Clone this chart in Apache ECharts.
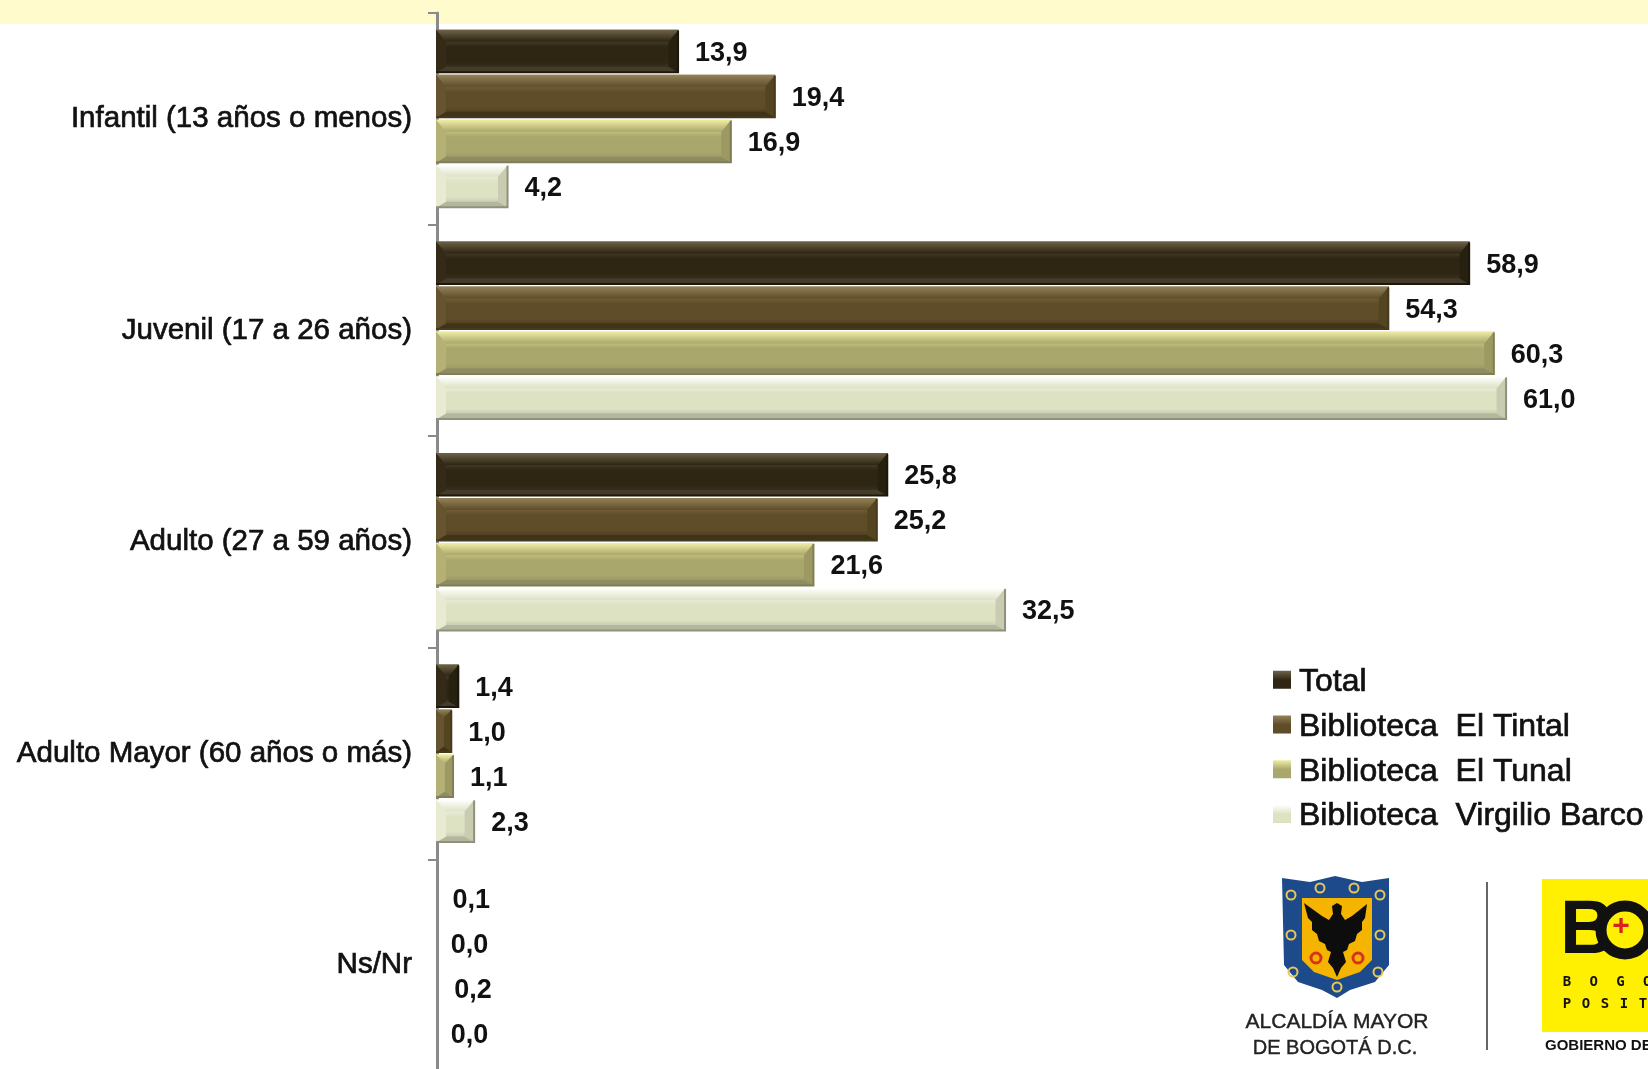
<!DOCTYPE html>
<html><head><meta charset="utf-8">
<style>html,body{margin:0;padding:0;background:#fff;overflow:hidden}#c{width:1648px;height:1069px}</style>
<script src="https://cdn.jsdelivr.net/npm/echarts@6/dist/echarts.min.js"></script>
</head><body><div id="c"></div>
<script>
const categories = ['Infantil (13 años o menos)','Juvenil (17 a 26 años)','Adulto (27 a 59 años)','Adulto Mayor (60 años o más)','Ns/Nr'];
const seriesNames = ['Total','Biblioteca  El Tintal','Biblioteca  El Tunal','Biblioteca  Virgilio Barco'];
const total = [13.9,58.9,25.8,1.4,0.1];
const tintal = [19.4,54.3,25.2,1.0,0.0];
const tunal = [16.9,60.3,21.6,1.1,0.2];
const virgilio = [4.2,61.0,32.5,2.3,0.0];
const allValues = [total,tintal,tunal,virgilio];
const fills = ['#2e2513','#5e4d28','#aaa76c','#dde2c3'];
const tops = ['#6e6348','#94825a','#f0eea4','#ffffff'];
const bottoms = ['#443c2a','#3f3318','#8d8c62','#b4b69e'];
const rights = ['#262010','#544521','#9c9a62','#c9ccb0'];
const lefts = ['#332a18','#665430','#b4b176','#e8ebd2'];
const edges = ['#1c170a','#46391c','#7f7e58','#8f917c'];
const BAR = 43, STEP = 45;
const font = '"Liberation Sans", Arial, sans-serif';

function bevel(si){
  return function(params, api){
    const v = api.value(0), c = api.value(1);
    const p = api.coord([v,c]);
    const y0 = p[1] + (si-1.5)*STEP - BAR/2, y1 = y0 + BAR;
    const xa = params.coordSys.x, x0 = xa + 1.8, x1 = p[0], w = x1-x0;
    if (w < 5) return {type:'group',children:[]};
    const t = Math.min(12,w/2), s = Math.min(10,w/2), b = Math.min(6,w/2);
    const poly = (pts,fill)=>({type:'polygon',shape:{points:pts},style:{fill:fill},silent:true});
    const grad = {type:'linear',x:0,y:0,x2:0,y2:1,colorStops:[{offset:0,color:tops[si]},{offset:1,color:fills[si]}]};
    return {type:'group',children:[
      {type:'rect',shape:{x:xa-1,y:y0-.5,width:2.8,height:BAR+1},style:{fill:'#fff'},silent:true},
      poly([[x0,y0],[x1,y0],[x1-s,y0+t],[x0+s,y0+t]],grad),
      poly([[x0,y1],[x1,y1],[x1-s,y1-b],[x0+s,y1-b]],bottoms[si]),
      poly([[x1,y0],[x1,y1],[x1-s,y1-b],[x1-s,y0+t]],rights[si]),
      poly([[x0,y0],[x0,y1],[x0+s,y1-b],[x0+s,y0+t]],lefts[si]),
      {type:'polyline',shape:{points:[[x1-.5,y0+1],[x1-.5,y1-.5],[x0,y1-.5]]},style:{fill:'none',stroke:edges[si],lineWidth:2},silent:true}
    ]};
  };
}

const barSeries = allValues.map((vals,si)=>({
  type:'bar', name:seriesNames[si],
  data:vals.map(v=>v<0.5?{value:v,itemStyle:{color:'transparent'}}:v),
  barWidth:BAR, barGap:'4.65%',
  itemStyle:{color:{type:'linear',x:0,y:0,x2:0,y2:1,colorStops:[{offset:0,color:tops[si]},{offset:.4,color:fills[si]},{offset:.75,color:fills[si]},{offset:1,color:bottoms[si]}]}},
  label:{show:true,position:'right',distance:16.5,offset:[0,2.5],color:'#111',fontFamily:font,fontWeight:'bold',fontSize:27,
    formatter:p=>p.value.toFixed(1).replace('.',',')},
  z:2
}));
const bevelSeries = allValues.map((vals,si)=>({
  type:'custom', name:'bevel'+si, renderItem:bevel(si), silent:true, z:3, clip:false,
  encode:{x:0,y:1}, tooltip:{show:false}, data:vals.map((v,i)=>[v,i])
}));

// decorative logo pieces
const shield = [[1282,878],[1310,882],[1335,876],[1362,882],[1389,878],[1389,965],[1375,982],[1350,990],[1337,998],[1322,990],[1298,982],[1284,965]];
const inner = [[1302,898],[1372,898],[1372,960],[1360,972],[1337,980],[1314,972],[1302,960]];
const eagle = [[1337,903],[1342,906],[1341,914],[1345,920],[1352,916],[1367,904],[1365,918],[1362,922],[1362,930],[1357,934],[1355,941],[1349,944],[1347,950],[1343,952],[1346,962],[1341,968],[1337,977],[1333,968],[1328,962],[1331,952],[1327,950],[1325,944],[1319,941],[1317,934],[1312,930],[1312,922],[1308,918],[1304,903],[1322,916],[1329,920],[1333,914],[1332,906]];
const rings = [[1291,895],[1291,935],[1293,972],[1380,895],[1380,935],[1378,972],[1320,888],[1354,888],[1337,987]];
const posit = ['P','O','S','I','T'], bogo = ['B','O','G','O'];
const logoShapes = [
  {type:'polygon',shape:{points:shield},style:{fill:'#1c4a8a'}},
  {type:'polygon',shape:{points:inner},style:{fill:'#f4b400'}},
  {type:'polygon',shape:{points:eagle},style:{fill:'#0d0d0d'}},
  {type:'circle',shape:{cx:1316,cy:958,r:5},style:{fill:'none',stroke:'#d8321c',lineWidth:3}},
  {type:'circle',shape:{cx:1358,cy:958,r:5},style:{fill:'none',stroke:'#d8321c',lineWidth:3}},
  ...rings.map(r=>({type:'circle',shape:{cx:r[0],cy:r[1],r:4.5},style:{fill:'none',stroke:'#e8c65a',lineWidth:2}})),
  {type:'line',shape:{x1:1487,y1:882,x2:1487,y2:1050},style:{stroke:'#333',lineWidth:1.5}},
  {type:'rect',shape:{x:1542,y:879,width:106,height:153},style:{fill:'#ffef00'}},
  {type:'text',x:1560,y:932,style:{text:'B',font:'bold 76px '+font,fill:'#111',textVerticalAlign:'middle'}},
  {type:'circle',shape:{cx:1625,cy:930,r:24},style:{fill:'#ffef00',stroke:'#111',lineWidth:11}},
  {type:'text',x:1621,y:927,style:{text:'+',font:'bold 30px '+font,fill:'#d8201c',textAlign:'center',textVerticalAlign:'middle'}},
  ...bogo.map((ch,i)=>({type:'text',x:1567+i*26.7,y:982,style:{text:ch,font:'bold 14px "DejaVu Sans Mono"',fill:'#111',textAlign:'center',textVerticalAlign:'middle'}})),
  ...posit.map((ch,i)=>({type:'text',x:1567+i*19,y:1004,style:{text:ch,font:'bold 14px "DejaVu Sans Mono"',fill:'#111',textAlign:'center',textVerticalAlign:'middle'}})),
  {type:'text',x:1545,y:1046,style:{text:'GOBIERNO DE LA CIUDAD',font:'bold 15px "Liberation Sans Narrow", "Liberation Sans"',fill:'#111',textVerticalAlign:'middle'}},
  {type:'text',x:1337,y:1022,style:{text:'ALCALDÍA MAYOR',font:'21px '+font,fill:'#222',stroke:'#222',lineWidth:.4,textAlign:'center',textVerticalAlign:'middle'}},
  {type:'text',x:1335,y:1048,style:{text:'DE BOGOTÁ D.C.',font:'20px '+font,fill:'#222',stroke:'#222',lineWidth:.4,textAlign:'center',textVerticalAlign:'middle'}}
];

const chart = echarts.init(document.getElementById('c'),null,{renderer:'canvas',width:1648,height:1069});
chart.setOption({
  animation:false,
  backgroundColor:'#fff',
  grid:{left:434.2,top:13,width:1230.6,height:1058,containLabel:false,outerBoundsMode:'none'},
  xAxis:{type:'value',min:0,max:70,show:false},
  yAxis:{type:'category',inverse:true,data:categories,offset:-2.8,
    axisLine:{show:true,onZero:false,lineStyle:{color:'#8a8a8a',width:3}},
    axisTick:{show:true,length:9,lineStyle:{color:'#8a8a8a',width:2}},
    axisLabel:{color:'#111',fontFamily:font,fontSize:29.5,margin:25,fontWeight:'normal',textBorderColor:'#111',textBorderWidth:.7}},
  legend:{data:seriesNames,orient:'vertical',left:1273,top:666,itemWidth:18,itemHeight:23,itemGap:12,
    icon:'path://M0,0H18V18H0Z M0,23H18',
    selectedMode:false,padding:0,
    textStyle:{color:'#111',fontFamily:font,fontSize:32,lineHeight:32,padding:[0,0,0,3],textBorderColor:'#111',textBorderWidth:.7}},
  series:[...barSeries,...bevelSeries],
  graphic:{elements:[
    {type:'rect',z:-10,silent:true,shape:{x:0,y:0,width:1648,height:24},style:{fill:'#fffbcc'}},
    {type:'group',silent:true,children:logoShapes}
  ]}
});
</script></body></html>
